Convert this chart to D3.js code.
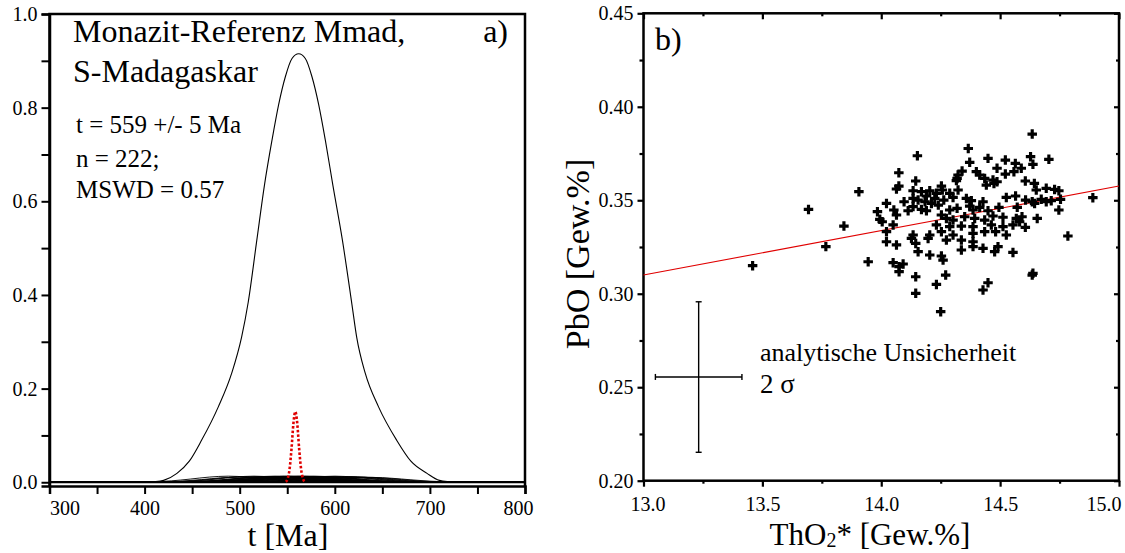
<!DOCTYPE html>
<html>
<head>
<meta charset="utf-8">
<script src="https://cdn.jsdelivr.net/npm/d3@7"></script>
<style>
  body { margin: 0; background: #fff; }
  svg text { font-family: "Liberation Serif", "Times New Roman", serif; fill: #000; }
</style>
</head>
<body>
<div id="chart"></div>
<script>
// a) summed probability curve of monazite ages (read off the picture)
var mainAge  = [300, 400, 410, 420, 434, 447, 460, 477.5, 491.6, 502, 509, 518, 526, 534, 541, 548, 555, 562, 569, 576, 583, 590, 598, 608, 618, 623, 632, 646, 665, 680, 697, 710, 720, 730, 800];
var mainDens = [0, 0, 0.001, 0.004, 0.019, 0.045, 0.090, 0.161, 0.233, 0.31, 0.385, 0.517, 0.634, 0.731, 0.807, 0.866, 0.905, 0.915, 0.905, 0.866, 0.807, 0.731, 0.634, 0.517, 0.38, 0.31, 0.233, 0.161, 0.090, 0.045, 0.019, 0.004, 0.001, 0, 0];

// weighted mean 559 +/- 5 Ma (red dotted)
var meanAge  = [548.5, 550.5, 552.5, 554.5, 556.5, 558.5, 560.5, 562.5, 564.5, 566.5, 568.5];
var meanDens = [0.001, 0.008, 0.029, 0.072, 0.126, 0.151, 0.126, 0.072, 0.029, 0.008, 0.001];

// single analyses: hump position + height, shared hump shape
var humpAge  = [488, 500, 508, 515, 521, 527, 532, 536, 540, 544, 547, 550, 553, 556, 559, 562, 565, 568, 571, 575, 579, 583, 588, 594, 600, 607, 614, 622, 630, 640];
var humpPeak = [0.013, 0.011, 0.012, 0.013, 0.010, 0.012, 0.012, 0.013, 0.011, 0.012, 0.013, 0.012, 0.013, 0.011, 0.012, 0.013, 0.012, 0.013, 0.011, 0.012, 0.013, 0.012, 0.012, 0.011, 0.013, 0.012, 0.012, 0.011, 0.011, 0.010];
var humpOffset = [-120, -100, -80, -60, -40, -20, 0, 20, 40, 60, 80, 100, 120];
var humpShape  = [0.003, 0.017, 0.074, 0.23, 0.52, 0.85, 1, 0.85, 0.52, 0.23, 0.074, 0.017, 0.003];

var ageTicks = [300, 350, 400, 450, 500, 550, 600, 650, 700, 750, 800];
var densTicks = [0, 0.1, 0.2, 0.3, 0.4, 0.5, 0.6, 0.7, 0.8, 0.9, 1.0];

// b) ThO2* vs PbO analyses
var points = [
  [14.635,0.3854],[14.366,0.3777],[14.152,0.3738],[14.449,0.3724],[14.522,0.3715],[14.705,0.3719],[14.628,0.3733],[14.372,0.3703],
  [14.564,0.3697],[14.487,0.3671],[14.589,0.3671],[14.638,0.3692],[14.074,0.3647],[14.340,0.3656],[14.400,0.3653],[14.522,0.3640],
  [14.558,0.3653],[14.323,0.3635],[14.414,0.3635],[14.435,0.3617],[14.470,0.3608],[14.487,0.3599],[14.442,0.3581],[14.474,0.3590],
  [14.319,0.3617],[14.316,0.3605],[14.145,0.3603],[14.074,0.3576],[14.064,0.3560],[14.606,0.3603],[14.644,0.3590],[14.652,0.3555],
  [14.694,0.3564],[14.729,0.3558],[14.747,0.3551],[13.906,0.3546],[14.134,0.3551],[14.169,0.3546],[14.204,0.3551],[14.253,0.3576],
  [14.257,0.3555],[14.232,0.3537],[14.288,0.3537],[14.323,0.3555],[14.302,0.3515],[14.190,0.3523],[14.225,0.3510],[14.263,0.3501],
  [14.096,0.3492],[14.022,0.3483],[14.155,0.3501],[14.134,0.3510],[14.184,0.3492],[14.211,0.3483],[14.240,0.3474],[14.358,0.3510],
  [14.379,0.3498],[14.428,0.3492],[14.526,0.3515],[14.565,0.3523],[14.607,0.3501],[14.635,0.3492],[14.645,0.3483],[14.673,0.3505],
  [14.694,0.3492],[14.715,0.3498],[14.754,0.3505],[14.890,0.3514],[13.694,0.3451],[13.984,0.3439],[14.053,0.3448],[14.113,0.3444],
  [14.134,0.3466],[14.169,0.3451],[14.190,0.3444],[14.288,0.3448],[14.319,0.3457],[14.372,0.3469],[14.386,0.3448],[14.414,0.3462],
  [14.449,0.3444],[14.495,0.3462],[14.572,0.3462],[14.747,0.3448],[13.994,0.3398],[14.064,0.3421],[14.004,0.3385],[14.253,0.3421],
  [14.274,0.3403],[14.302,0.3394],[14.351,0.3412],[14.393,0.3403],[14.435,0.3394],[14.470,0.3416],[14.512,0.3409],[14.568,0.3403],
  [14.592,0.3412],[14.656,0.3403],[14.582,0.3385],[13.843,0.3362],[14.050,0.3368],[14.232,0.3368],[14.288,0.3359],[14.337,0.3362],
  [14.386,0.3359],[14.463,0.3368],[14.512,0.3359],[14.554,0.3368],[14.606,0.3355],[14.253,0.3332],[14.022,0.3332],[14.134,0.3314],
  [14.204,0.3314],[14.302,0.3314],[14.386,0.3323],[14.435,0.3332],[14.481,0.3332],[14.526,0.3314],[14.785,0.3309],[14.337,0.3287],
  [14.022,0.3278],[14.127,0.3296],[14.197,0.3296],[14.274,0.3287],[14.386,0.3278],[14.064,0.3261],[14.145,0.3269],[14.386,0.3252],
  [14.491,0.3252],[13.767,0.3252],[14.155,0.3225],[14.337,0.3234],[14.428,0.3243],[14.477,0.3225],[14.554,0.3221],[14.204,0.3207],
  [14.253,0.3202],[13.945,0.3171],[14.050,0.3166],[14.092,0.3159],[14.075,0.3145],[14.260,0.3180],[14.075,0.3118],[13.459,0.3150],
  [14.638,0.3109],[14.635,0.3100],[14.145,0.3091],[14.271,0.3100],[14.449,0.3059],[14.232,0.3050],[14.428,0.3020],[14.145,0.3002],
  [14.250,0.2904]
];
var regTho = [13.0, 15.0];
var regPbo = [0.310, 0.3576];
// 2 sigma analytical uncertainty cross
var errTho = [13.05, 13.232, 13.414];
var errPbo = [0.2152, 0.2555, 0.2957];

var thoMajor = [13.0, 13.5, 14.0, 14.5, 15.0];
var thoMinor = [13.25, 13.75, 14.25, 14.75];
var pboMajor = [0.20, 0.25, 0.30, 0.35, 0.40, 0.45];
var pboMinor = [0.225, 0.275, 0.325, 0.375, 0.425];

var serif = "'Liberation Serif', 'Times New Roman', serif";
var width = 1125, height = 553;
var svg = d3.select("#chart").append("svg")
  .attr("width", width).attr("height", height)
  .attr("font-family", serif);
svg.append("rect").attr("width", width).attr("height", height).attr("fill", "#fff");

// ---------- panel a ----------
var xA = d3.scaleLinear().domain([300, 800]).range([49.5, 525]);
var yA = d3.scaleLinear().domain([-0.008, 1.0]).range([486, 14]);

var gA = svg.append("g");

var lineA = d3.line()
  .x(function (d) { return xA(d[0]); })
  .y(function (d) { return yA(d[1]); })
  .curve(d3.curveMonotoneX);

// individual humps, padded with zero out to the axis ends
humpAge.forEach(function (c, i) {
  var pts = [[300, 0], [c - 140, 0]];
  humpOffset.forEach(function (o, j) { pts.push([c + o, humpPeak[i] * humpShape[j]]); });
  pts.push([c + 140, 0], [800, 0]);
  gA.append("path").attr("d", lineA(pts))
    .attr("fill", "none").attr("stroke", "#000").attr("stroke-width", 0.9);
});

// zero level (all curves overlap here)
gA.append("line")
  .attr("x1", xA(300)).attr("x2", xA(800))
  .attr("y1", yA(0)).attr("y2", yA(0))
  .attr("stroke", "#000").attr("stroke-width", 2.2);

gA.append("path")
  .attr("d", lineA(mainAge.map(function (a, i) { return [a, mainDens[i]]; })))
  .attr("fill", "none").attr("stroke", "#000").attr("stroke-width", 1.1);

gA.append("path")
  .attr("d", lineA(meanAge.map(function (a, i) { return [a, meanDens[i]]; })))
  .attr("fill", "none").attr("stroke", "#e00000").attr("stroke-width", 2.6)
  .attr("stroke-dasharray", "2.5,2");

// frame
gA.append("path")
  .attr("d", "M" + xA(300) + "," + yA(-0.008) + "V" + yA(1) + "H" + xA(800) + "V" + yA(-0.008))
  .attr("fill", "none").attr("stroke", "#000").attr("stroke-width", 2.5);

var axA = gA.append("g")
  .attr("transform", "translate(0," + yA(-0.008) + ")")
  .call(d3.axisBottom(xA).tickValues(ageTicks).tickSize(8).tickPadding(7)
    .tickFormat(function (d) { return d % 100 === 0 ? d : ""; }));
var ayA = gA.append("g")
  .attr("transform", "translate(" + xA(300) + ",0)")
  .call(d3.axisLeft(yA).tickValues(densTicks).tickSize(8).tickPadding(4)
    .tickFormat(function (d) { return Math.round(d * 10) % 2 === 0 ? d.toFixed(1) : ""; }));
[axA, ayA].forEach(function (a) {
  a.attr("font-family", serif).attr("font-size", 20);
  a.select(".domain").attr("stroke", "#000").attr("stroke-width", 2.5);
  a.selectAll(".tick line").attr("stroke", "#000").attr("stroke-width", 2);
  a.selectAll(".tick text").attr("fill", "#000");
});
axA.selectAll(".tick text").filter(function (d) { return d === 300; }).attr("text-anchor", "start");
axA.selectAll(".tick text").filter(function (d) { return d === 800; }).attr("dx", -7);

gA.append("text").attr("x", 288).attr("y", 546).attr("text-anchor", "middle")
  .attr("font-size", 32).text("t [Ma]");

gA.append("text").attr("x", 73).attr("y", 42).attr("font-size", 32).text("Monazit-Referenz Mmad,");
gA.append("text").attr("x", 73).attr("y", 82).attr("font-size", 32).text("S-Madagaskar");
gA.append("text").attr("x", 508).attr("y", 42).attr("text-anchor", "end").attr("font-size", 32).text("a)");
gA.append("text").attr("x", 76).attr("y", 133).attr("font-size", 25).text("t = 559 +/- 5 Ma");
gA.append("text").attr("x", 76).attr("y", 167).attr("font-size", 25).text("n = 222;");
gA.append("text").attr("x", 76).attr("y", 198).attr("font-size", 25).text("MSWD = 0.57");

// ---------- panel b ----------
var xB = d3.scaleLinear().domain([13, 15]).range([643.5, 1119]);
var yB = d3.scaleLinear().domain([0.20, 0.45]).range([480.7, 13.3]);
var gB = svg.append("g");

function styleAxis(a) {
  a.attr("font-family", serif).attr("font-size", 20);
  a.select(".domain").remove();
  a.selectAll(".tick line").attr("stroke", "#000").attr("stroke-width", 2.2);
  a.selectAll(".tick text").attr("fill", "#000");
  return a;
}
var bx1 = styleAxis(gB.append("g").attr("transform", "translate(0," + yB(0.2) + ")")
  .call(d3.axisBottom(xB).tickValues(thoMajor).tickSize(6).tickPadding(10).tickFormat(d3.format(".1f"))));
bx1.selectAll(".tick text").filter(function (d) { return d === 13; }).attr("dx", 4);
bx1.selectAll(".tick text").filter(function (d) { return d === 15; }).attr("text-anchor", "end").attr("dx", 2);
styleAxis(gB.append("g").attr("transform", "translate(0," + yB(0.2) + ")")
  .call(d3.axisBottom(xB).tickValues(thoMinor).tickSize(3).tickFormat("")));
styleAxis(gB.append("g").attr("transform", "translate(0," + yB(0.45) + ")")
  .call(d3.axisTop(xB).tickValues(thoMajor).tickSize(-6).tickFormat("")));
styleAxis(gB.append("g").attr("transform", "translate(0," + yB(0.45) + ")")
  .call(d3.axisTop(xB).tickValues(thoMinor).tickSize(-3).tickFormat("")));
styleAxis(gB.append("g").attr("transform", "translate(" + xB(13) + ",0)")
  .call(d3.axisLeft(yB).tickValues(pboMajor).tickSize(6).tickPadding(4).tickFormat(d3.format(".2f"))));
styleAxis(gB.append("g").attr("transform", "translate(" + xB(13) + ",0)")
  .call(d3.axisLeft(yB).tickValues(pboMinor).tickSize(4).tickFormat("")));
styleAxis(gB.append("g").attr("transform", "translate(" + xB(15) + ",0)")
  .call(d3.axisRight(yB).tickValues(pboMajor).tickSize(-5).tickFormat("")));
styleAxis(gB.append("g").attr("transform", "translate(" + xB(15) + ",0)")
  .call(d3.axisRight(yB).tickValues(pboMinor).tickSize(-3).tickFormat("")));

gB.append("rect")
  .attr("x", xB(13)).attr("y", yB(0.45))
  .attr("width", xB(15) - xB(13)).attr("height", yB(0.2) - yB(0.45))
  .attr("fill", "none").attr("stroke", "#000").attr("stroke-width", 2.5);

// regression line
gB.append("line")
  .attr("x1", xB(regTho[0])).attr("y1", yB(regPbo[0]))
  .attr("x2", xB(regTho[1])).attr("y2", yB(regPbo[1]))
  .attr("stroke", "#e00000").attr("stroke-width", 1.1);

// data crosses
var cross = d3.symbol().type(d3.symbolCross).size(50);
gB.selectAll("path.pt").data(points).enter().append("path")
  .attr("class", "pt")
  .attr("d", cross)
  .attr("transform", function (d) { return "translate(" + xB(d[0]) + "," + yB(d[1]) + ")"; })
  .attr("fill", "#000");

// uncertainty cross
var eg = gB.append("g").attr("stroke", "#000").attr("stroke-width", 1.4);
eg.append("line").attr("x1", xB(errTho[0])).attr("x2", xB(errTho[2]))
  .attr("y1", yB(errPbo[1])).attr("y2", yB(errPbo[1]));
eg.append("line").attr("x1", xB(errTho[1])).attr("x2", xB(errTho[1]))
  .attr("y1", yB(errPbo[0])).attr("y2", yB(errPbo[2]));
[errTho[0], errTho[2]].forEach(function (t) {
  eg.append("line").attr("x1", xB(t)).attr("x2", xB(t))
    .attr("y1", yB(errPbo[1]) - 3).attr("y2", yB(errPbo[1]) + 3);
});
[errPbo[0], errPbo[2]].forEach(function (p) {
  eg.append("line").attr("x1", xB(errTho[1]) - 3).attr("x2", xB(errTho[1]) + 3)
    .attr("y1", yB(p)).attr("y2", yB(p));
});

gB.append("text").attr("x", 760).attr("y", 361).attr("font-size", 26).text("analytische Unsicherheit");
gB.append("text").attr("x", 760).attr("y", 393).attr("font-size", 27).text("2 σ");
gB.append("text").attr("x", 655).attr("y", 50).attr("font-size", 32).text("b)");

gB.append("text")
  .attr("transform", "translate(589,254) rotate(-90)")
  .attr("text-anchor", "middle").attr("font-size", 34).text("PbO [Gew.%]");

var xl = gB.append("text").attr("x", 870).attr("y", 545).attr("text-anchor", "middle").attr("font-size", 31);
xl.append("tspan").text("ThO");
xl.append("tspan").attr("font-size", 20).attr("dy", 2).text("2");
xl.append("tspan").attr("dy", -2).text("* [Gew.%]");
</script>
</body>
</html>
